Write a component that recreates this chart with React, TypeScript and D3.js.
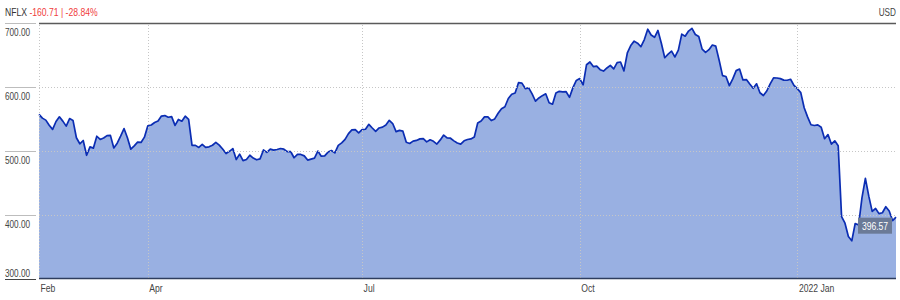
import React from "react";
import * as d3 from "d3";

// NFLX daily closes, Feb 16 2021 – Feb 14 2022 (one array per month)
const feb21 = [557.28, 551.34, 548.22, 540.22, 533.78, 546.15, 553.41, 546.7, 538.85];
const mar21 = [550.64, 547.82, 520.7, 511.29, 516.39, 493.33, 506.44, 504.54, 523.06, 518.02, 520.25, 524.03, 524.44, 504.79, 512.18, 523.11, 535.09, 520.81, 502.86, 508.05, 513.95, 513.39, 521.66];
const apr21 = [539.42, 540.67, 544.53, 546.99, 554.58, 555.31, 552.78, 553.73, 540.02, 549.22, 546.54, 554.44, 549.57, 508.9, 508.78, 505.55, 510.3, 505.55, 506.52, 509.0, 513.47];
const may21 = [509.11, 503.18, 496.08, 499.55, 503.84, 486.69, 495.08, 484.98, 486.66, 493.37, 488.94, 486.28, 487.7, 501.67, 497.89, 502.9, 501.34, 502.36, 503.86, 502.81];
const jun21 = [499.08, 499.24, 489.43, 494.74, 494.66, 492.39, 485.81, 487.27, 488.77, 499.89, 491.9, 492.41, 498.34, 500.77, 497.0, 508.82, 512.74, 518.06, 527.07, 533.03, 533.5, 528.21];
const jul21 = [533.54, 533.98, 541.64, 535.96, 530.76, 535.98, 537.31, 540.68, 547.95, 542.95, 530.31, 532.28, 531.05, 513.63, 511.77, 515.41, 516.49, 518.91, 519.3, 514.25, 517.57];
const aug21 = [515.15, 510.82, 517.35, 524.89, 520.55, 519.97, 515.84, 512.4, 510.72, 515.92, 517.92, 518.91, 521.87, 543.71, 546.88, 553.33, 553.41, 547.58, 550.12, 558.92, 566.18, 569.19];
const sep21 = [582.07, 588.55, 590.53, 606.71, 606.05, 597.54, 598.72, 589.29, 577.76, 582.87, 586.5, 589.35, 575.43, 573.14, 590.65, 593.26, 592.39, 592.64, 583.85, 599.06, 610.34];
const oct21 = [613.15, 603.35, 634.81, 639.1, 631.85, 632.66, 627.04, 624.94, 629.76, 633.8, 628.29, 637.97, 639.0, 625.14, 653.16, 664.78, 671.66, 668.52, 662.92, 674.05, 690.31];
const nov21 = [681.17, 677.72, 688.29, 668.4, 645.72, 651.45, 655.99, 646.91, 657.58, 682.61, 679.33, 687.4, 691.69, 682.02, 678.8, 659.2, 654.06, 658.29, 665.64, 663.84, 641.9];
const dec21 = [617.77, 616.47, 602.13, 612.69, 625.58, 628.08, 611.0, 611.66, 604.56, 597.99, 605.04, 591.06, 586.73, 593.74, 604.92, 614.24, 614.09, 613.12, 610.71, 610.54, 612.09, 602.44];
const jan22 = [597.37, 591.15, 567.52, 553.29, 541.06, 539.85, 540.84, 537.22, 519.2, 525.69, 510.8, 515.86, 508.25, 397.5, 387.15, 366.42, 359.7, 386.7, 384.36, 427.14];
const feb22 = [457.13, 429.48, 405.6, 410.17, 402.1, 403.53, 412.89, 406.27, 391.31, 396.57];

const months = [feb21, mar21, apr21, may21, jun21, jul21, aug21, sep21, oct21, nov21, dec21, jan22, feb22];
const tickMonths = [0, 2, 5, 8, 11];
const tickLabels = ["Feb", "Apr", "Jul", "Oct", "2022 Jan"];
const yTicks = [700, 600, 500, 400, 300];
const ticker = "NFLX";
const currency = "USD";

const FONT = "'Liberation Sans', Arial, sans-serif";

function NText(props: {
  x: number;
  y: number;
  size: number;
  fill: string;
  anchor?: "start" | "middle" | "end";
  sx?: number;
  children: React.ReactNode;
}) {
  const { x, y, size, fill, anchor = "start", sx = 0.82, children } = props;
  return (
    <text
      transform={`translate(${x},${y}) scale(${sx},1)`}
      fontSize={size}
      fill={fill}
      textAnchor={anchor}
      fontFamily={FONT}
    >
      {children}
    </text>
  );
}

export default function App() {
  const values = months.flat();
  const starts: number[] = [];
  let acc = 0;
  months.forEach((m) => {
    starts.push(acc);
    acc += m.length;
  });
  const first = values[0];
  const last = values[values.length - 1];
  const change = last - first;
  const pct = (change / first) * 100;

  const x = d3.scaleLinear().domain([0, values.length - 1]).range([39, 896]);
  const y = d3.scaleLinear().domain([300, 700]).range([279, 23]);

  const area = d3
    .area<number>()
    .x((_, i) => x(i))
    .y0(y(300))
    .y1((d) => y(d));
  const line = d3
    .line<number>()
    .x((_, i) => x(i))
    .y((d) => y(d));

  const ticks = tickMonths.map((m, k) => ({ i: starts[m], label: tickLabels[k] }));
  const lx = x(values.length - 1);
  const ly = y(last);

  return (
    <svg
      width={900}
      height={300}
      style={{ position: "fixed", left: 0, top: 0, background: "#fff" }}
    >
      {/* header */}
      <NText x={5} y={16} size={10.5} fill="#333">
        {ticker}{" "}
        <tspan fill="#f03c3c">
          {change.toFixed(2)} | {pct.toFixed(2)}%
        </tspan>
      </NText>
      <NText x={896} y={16} size={10} fill="#444" anchor="end">
        {currency}
      </NText>

      {/* area + line */}
      <path d={area(values) || ""} fill="#99b0e2" />
      <path d={line(values) || ""} fill="none" stroke="#0b2db3" strokeWidth={1.7} strokeLinejoin="round" />

      {/* horizontal gridlines */}
      {yTicks
        .filter((t) => t !== 700 && t !== 300)
        .map((t) => (
          <line key={"hg" + t} x1={39} x2={896} y1={y(t) + 0.5} y2={y(t) + 0.5} stroke="#c6c6c6" strokeDasharray="1,2" />
        ))}
      {/* vertical gridlines */}
      {ticks.map((t) => (
        <line key={"vg" + t.i} x1={Math.round(x(t.i)) + 0.5} x2={Math.round(x(t.i)) + 0.5} y1={25} y2={278} stroke="#c6c6c6" strokeDasharray="1,2" />
      ))}

      {/* top rule */}
      <line x1={39} x2={896} y1={23.5} y2={23.5} stroke="#5a5a5a" strokeWidth={1.6} />
      {/* bottom axis */}
      <line x1={39} x2={896} y1={278.5} y2={278.5} stroke="#2e3d5e" strokeWidth={1.6} />

      {/* y labels */}
      {yTicks.map((t) => {
        const yy = y(t);
        const isBottom = t === 300;
        return (
          <g key={"yl" + t}>
            <line x1={5} x2={36} y1={Math.round(yy) + 0.5} y2={Math.round(yy) + 0.5} stroke={isBottom ? "#444" : "#bdbdbd"} strokeWidth={1} />
            <NText x={5} y={isBottom ? yy - 2 : yy + 13} size={10} fill="#444">
              {t.toFixed(2)}
            </NText>
          </g>
        );
      })}

      {/* x labels */}
      {ticks.map((t) => (
        <NText key={"xl" + t.i} x={x(t.i) + 1.5} y={291.5} size={10.5} fill="#444">
          {t.label}
        </NText>
      ))}

      {/* last value badge */}
      <rect x={lx - 38} y={ly + 0.5} width={34} height={16} fill="#6b7a97" />
      <NText x={lx - 21} y={ly + 12.5} size={11} fill="#fff" anchor="middle" sx={0.78}>
        {last.toFixed(2)}
      </NText>
    </svg>
  );
}
